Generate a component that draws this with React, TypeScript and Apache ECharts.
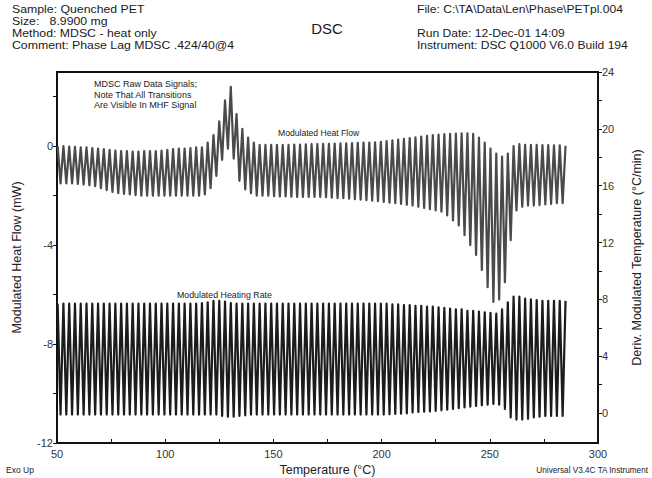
import React, { useEffect, useRef } from "react";
import * as echarts from "echarts";

// Temperature grid of the modulation: first peak and period (°C per cycle)
const T_START = 50.3;
const T_PERIOD = 2.667;

// Modulated Heat Flow (mW): value at each cycle's maximum and minimum
const MHF_PEAKS = [
  0.0, 0.0, -0.02, -0.03, -0.05, -0.05, -0.08, -0.1,
  -0.12, -0.15, -0.18, -0.2, -0.2, -0.22, -0.22, -0.2, -0.2, -0.2, -0.18,
  -0.15, -0.12, -0.1, -0.1, -0.08, -0.05,
  -0.05, 0.15, 0.45, 1.0, 1.85, 2.4, 1.3, 0.7, 0.35, 0.15, 0.05,
  0.05, 0.05, 0.05, 0.05, 0.05, 0.06, 0.06, 0.07, 0.08, 0.09,
  0.1, 0.1, 0.11, 0.12, 0.12, 0.13, 0.14, 0.15, 0.15, 0.16,
  0.18, 0.21, 0.24, 0.27, 0.3, 0.33, 0.36, 0.39, 0.42, 0.45,
  0.47, 0.49, 0.5, 0.51, 0.52, 0.52,
  0.5, 0.35, 0.15, -0.1, -0.3, -0.42, -0.3, 0.0, 0.08,
  0.05, 0.05, 0.05, 0.04, 0.04, 0.03, 0.03, 0.02,
];
const MHF_TROUGHS = [
  -1.5, -1.5, -1.5, -1.52, -1.55, -1.58, -1.62, -1.7, -1.78, -1.85,
  -1.9, -1.93, -1.95, -1.98, -2.0, -2.0, -2.0, -2.0, -2.0, -2.0, -2.0, -2.0, -2.0, -2.0, -2.0,
  -1.95, -1.7, -1.2, -0.55, -0.1, -0.5, -1.4, -1.75, -1.9, -2.0,
  -2.0, -2.0, -2.02, -2.03, -2.03, -2.04, -2.05, -2.05, -2.05, -2.05, -2.05,
  -2.06, -2.08, -2.1, -2.1, -2.12, -2.14, -2.16, -2.18, -2.2, -2.22, -2.25,
  -2.28, -2.3, -2.33, -2.37, -2.4, -2.45, -2.5, -2.55, -2.6, -2.65,
  -2.8, -3.0, -3.2, -3.6, -4.0, -4.4, -5.0, -5.7, -6.3, -6.2, -5.5, -3.8, -2.6,
  -2.45, -2.4, -2.4, -2.38, -2.35, -2.33, -2.3, -2.3,
];

// Modulated Heating Rate (°C/min): value at each cycle's maximum and minimum
const MHR_PEAKS = [
  7.7, 7.7, 7.7, 7.7, 7.7, 7.7, 7.7, 7.7, 7.7, 7.7,
  7.7, 7.7, 7.7, 7.7, 7.7, 7.7, 7.7, 7.7, 7.7, 7.7,
  7.7, 7.7, 7.7, 7.7, 7.7, 7.75, 7.8,
  7.9, 7.9, 7.85,
  7.75, 7.7, 7.7, 7.7, 7.7, 7.7, 7.7, 7.7, 7.7, 7.7,
  7.7, 7.7, 7.7, 7.7, 7.7, 7.7, 7.7, 7.7, 7.7, 7.7,
  7.7, 7.7, 7.7, 7.7, 7.7, 7.7, 7.7, 7.7, 7.65, 7.65, 7.6,
  7.6, 7.55, 7.55, 7.5, 7.5, 7.45, 7.4, 7.35, 7.3, 7.3,
  7.2, 7.2, 7.15, 7.1, 7.05, 7.0, 7.3,
  7.8, 8.2, 8.2,
  8.05, 8.0, 7.95, 7.9, 7.9, 7.9, 7.9, 7.9,
];
const MHR_TROUGHS = [
  -0.1, -0.1, -0.1, -0.1, -0.1, -0.1, -0.1, -0.1, -0.1, -0.1,
  -0.1, -0.1, -0.1, -0.1, -0.1, -0.1, -0.1, -0.1, -0.1, -0.1,
  -0.1, -0.1, -0.1, -0.1, -0.1, -0.1, -0.1, -0.1,
  -0.2, -0.25, -0.25, -0.2, -0.15,
  -0.1, -0.1, -0.1, -0.1, -0.1, -0.1, -0.1, -0.1, -0.1, -0.1,
  -0.1, -0.1, -0.1, -0.1, -0.1, -0.1, -0.1, -0.1, -0.1, -0.1,
  -0.1, -0.1, -0.1, -0.1, -0.08, -0.06, -0.04, -0.02,
  0.05, 0.08, 0.1, 0.12, 0.15, 0.2, 0.25, 0.3, 0.35, 0.4,
  0.45, 0.5, 0.55, 0.6, 0.65, 0.6, 0.3,
  -0.3, -0.45, -0.45, -0.4,
  -0.3, -0.25, -0.2, -0.2, -0.2, -0.2,
];

const X_TICKS = [50, 100, 150, 200, 250, 300];
const LEFT_TICKS = [-12, -8, -4, 0];
const RIGHT_TICKS = [0, 4, 8, 12, 16, 20, 24];
const RIGHT_MINOR = [2, 6, 10, 14, 18, 22];

const HEADER_LEFT = [
  "Sample: Quenched PET",
  "Size:   8.9900 mg",
  "Method: MDSC - heat only",
  "Comment: Phase Lag MDSC .424/40@4",
];
const HEADER_RIGHT = [
  "File: C:\\TA\\Data\\Len\\Phase\\PETpl.004",
  "",
  "Run Date: 12-Dec-01 14:09",
  "Instrument: DSC Q1000 V6.0 Build 194",
];
const NOTE_LINES = [
  "MDSC Raw Data Signals;",
  "Note That All Transitions",
  "Are Visible In MHF Signal",
];

const FONT = "'Liberation Sans', Arial, sans-serif";

function zigzag(peaks: number[], troughs: number[]): number[][] {
  const out: number[][] = [];
  for (let i = 0; i < peaks.length; i++) {
    out.push([T_START + i * T_PERIOD, peaks[i]]);
    if (i < troughs.length) out.push([T_START + (i + 0.5) * T_PERIOD, troughs[i]]);
  }
  return out;
}

export default function App() {
  const ref = useRef<HTMLDivElement>(null);
  useEffect(() => {
    if (!ref.current) return;
    const chart = echarts.init(ref.current, null, { renderer: "svg" });
    const txt = (text: string, x: number, y: number, size: number, extra: any = {}, el: any = {}) => ({
      type: "text",
      x,
      y,
      ...el,
      style: {
        text,
        font: `${size}px ${FONT}`,
        fill: "#1a1a1a",
        verticalAlign: "middle",
        ...extra,
      },
    });
    const graphics: any[] = [];
    const HEAD_SIZE = 10.6;
    const HEAD_STEP = 12;
    HEADER_LEFT.forEach((t, i) =>
      graphics.push(txt(t, 12, 9.5 + i * HEAD_STEP, HEAD_SIZE, {}, { scaleX: 1.16 }))
    );
    HEADER_RIGHT.forEach(
      (t, i) => t && graphics.push(txt(t, 417, 9.5 + i * HEAD_STEP, HEAD_SIZE, {}, { scaleX: 1.14 }))
    );
    graphics.push(txt("DSC", 327, 28, 15, { align: "center" }));
    NOTE_LINES.forEach((t, i) => graphics.push(txt(t, 94, 84 + i * 10.6, 9)));
    graphics.push(txt("Modulated Heat Flow", 278, 133, 8.6));
    graphics.push(txt("Modulated Heating Rate", 177, 295, 8.8));
    graphics.push(txt("Exo Up", 6, 470, 8.5));
    graphics.push(txt("Universal V3.4C TA Instrument", 648, 470, 8.2, { align: "right" }));

    const lineStyle = { color: "#111", width: 2 };
    const nameTextStyle = { fontFamily: FONT, fontSize: 12.5, color: "#222" };
    const labelBase = { fontFamily: FONT, fontSize: 11, color: "#333" };

    chart.setOption({
      animation: false,
      backgroundColor: "#fff",
      grid: {
        left: 57,
        right: 54,
        top: 72,
        bottom: 35,
        show: true,
        borderColor: "#111",
        borderWidth: 2,
        outerBoundsMode: "none",
        containLabel: false,
      },
      graphic: graphics,
      xAxis: {
        type: "value",
        min: 50,
        max: 300,
        interval: 25,
        axisLine: { show: true, onZero: false, lineStyle },
        axisTick: { show: true, inside: true, length: 4, lineStyle: { color: "#111" } },
        splitLine: { show: false },
        axisLabel: {
          ...labelBase,
          margin: 5,
          formatter: (v: number) => (X_TICKS.includes(v) ? String(v) : ""),
        },
        name: "Temperature (°C)",
        nameLocation: "middle",
        nameGap: 20,
        nameTextStyle,
      },
      yAxis: [
        {
          type: "value",
          position: "left",
          min: -12,
          max: 3,
          interval: 2,
          axisLine: { show: true, onZero: false, lineStyle },
          axisTick: { show: true, length: 4, lineStyle: { color: "#111" } },
          splitLine: { show: false },
          axisLabel: {
            ...labelBase,
            margin: 4,
            showMaxLabel: false,
            formatter: (v: number) => (LEFT_TICKS.includes(v) ? String(v) : ""),
          },
          name: "Modulated Heat Flow (mW)",
          nameLocation: "middle",
          nameGap: 34,
          nameTextStyle,
        },
        {
          type: "value",
          position: "right",
          min: -2.1,
          max: 24,
          axisLine: { show: true, onZero: false, lineStyle },
          axisTick: {
            show: true,
            length: 4,
            lineStyle: { color: "#111" },
            customValues: [...RIGHT_TICKS, ...RIGHT_MINOR].sort((a, b) => a - b),
          },
          splitLine: { show: false },
          axisLabel: {
            ...labelBase,
            margin: 4,
            customValues: RIGHT_TICKS,
            formatter: (v: number) => String(v),
          },
          name: "Deriv. Modulated Temperature (°C/min)",
          nameLocation: "middle",
          nameGap: 32,
          nameTextStyle,
        },
      ],
      series: [
        {
          type: "line",
          yAxisIndex: 0,
          data: zigzag(MHF_PEAKS, MHF_TROUGHS),
          showSymbol: false,
          symbol: "none",
          lineStyle: { color: "#4a4a4a", width: 2.2, join: "round" },
        },
        {
          type: "line",
          yAxisIndex: 1,
          data: zigzag(MHR_PEAKS, MHR_TROUGHS),
          showSymbol: false,
          symbol: "none",
          lineStyle: { color: "#1c1c1c", width: 2.2, join: "round" },
        },
      ],
    });
    return () => chart.dispose();
  }, []);
  return (
    <div
      ref={ref}
      style={{ position: "absolute", left: 0, top: 0, width: 652, height: 478 }}
    />
  );
}
